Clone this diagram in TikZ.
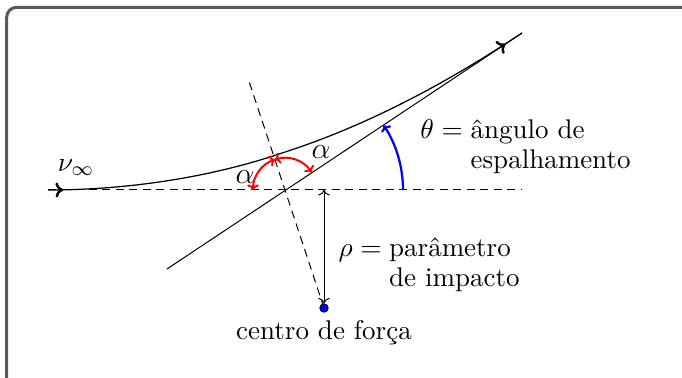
\documentclass[tikz,border=0pt]{standalone}
\usetikzlibrary{arrows.meta,decorations.markings}
\tikzset{
  trajtip/.tip={Computer Modern Rightarrow[length=3pt,width=6pt,line width=1pt]},
  arctip/.tip={Computer Modern Rightarrow[length=2.2pt,width=4.6pt]},
}
\begin{document}
\begin{tikzpicture}[x=0.4pt,y=0.4pt,
  every node/.style={font=\fontsize{10.8}{12}\selectfont, inner sep=0pt},
  anglelabel/.style={font=\fontsize{13}{14}\selectfont},
  frame/.style={draw=black!65, line width=1.2pt, rounded corners=4pt},
  thinline/.style={line width=0.4pt},
  dashline/.style={line width=0.4pt, dash pattern=on 3.2pt off 2.2pt},
  alphaarc/.style={red, line width=0.8pt, arctip-arctip},
  thetaarc/.style={blue, line width=0.9pt, -arctip},
  rhoarrow/.style={line width=0.4pt, arctip-arctip},
  trajectory/.style={line width=0.5pt, postaction={decorate}, decoration={markings,
     mark=at position 6pt with {\arrow{trajtip}},
     mark=at position -8pt with {\arrow{trajtip}}}},
  forcedot/.style={circle, fill=blue, draw=black, line width=0.3pt, minimum size=3.4pt, inner sep=0pt},
]
\useasboundingbox (0,0) rectangle (682,378);
\clip (0,0) rectangle (682,378);
\draw[frame] (6.7,370.7) rectangle (695,-15);

\coordinate (O) at (285,188);
\coordinate (F) at (324,70);
\coordinate (Htop) at (324,188);
\coordinate (H1) at (48,188);
\coordinate (H2) at (522,188);
\coordinate (A1) at (167,109);
\coordinate (A2) at (522,345);
\coordinate (Ap) at (248.6,298);
\coordinate (V) at (273.7,222.2);

\draw[dashline] (H1) -- (H2);
\draw[dashline] (F) -- (Ap);
\draw[thinline] (A1) -- (A2);
\draw[trajectory] (H1) .. controls (128,188) and (207.1,200.6) .. (V)
   .. controls (311.7,234.6) and (397.2,261.8) .. (A2);

\node[forcedot] (Fdot) at (F) {};
\draw[rhoarrow] (Htop) -- (Fdot.north);

\draw[alphaarc] ([shift={(180:32)}]O) arc[start angle=180, end angle=108.3, radius=32];
\draw[alphaarc] ([shift={(108.3:32)}]O) arc[start angle=108.3, end angle=33.7, radius=32];
\draw[thetaarc] ([shift={(0:118)}]O) arc[start angle=0, end angle=33.2, radius=118];

\node (nu) at (76,210) {$\nu_\infty$};
\node[anglelabel] (al1) at (245,201) {$\alpha$};
\node[anglelabel] (al2) at (321,226) {$\alpha$};
\node[anchor=west] (thl) at (420,230) {\begin{tabular}{@{}r@{}l@{}}$\theta={}$&ângulo de\\&espalhamento\end{tabular}};
\node[anchor=west] (rhol) at (338,112) {\begin{tabular}{@{}r@{}l@{}}$\rho={}$&parâmetro\\&de impacto\end{tabular}};
\node (cf) at (324,45) {centro de força};
\end{tikzpicture}
\end{document}
